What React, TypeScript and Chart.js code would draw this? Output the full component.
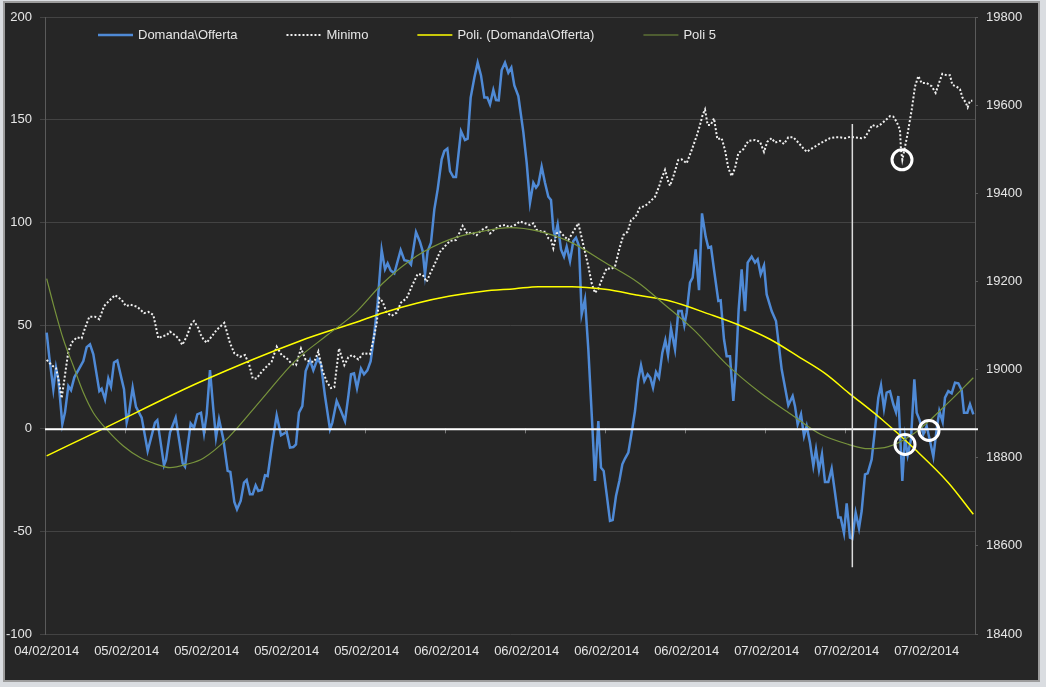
import React, { useEffect, useRef } from "react";
import { Chart, registerables } from "chart.js";

Chart.register(...registerables);

// ---------- data ----------
const xTickLabels = [
  "04/02/2014", "05/02/2014", "05/02/2014", "05/02/2014", "05/02/2014", "06/02/2014",
  "06/02/2014", "06/02/2014", "06/02/2014", "07/02/2014", "07/02/2014", "07/02/2014",
];
const samplesPerLabel = 24;
const sampleCount = 279;

// [sample index, value]
const domanda: [number, number][] = [
  [0, 46.5], [0.8, 34.5], [2.0, 19], [2.8, 29.6], [3.5, 23.8], [4.7, 2], [5.5, 7.8], [6.5, 20.6], [7.3, 18.6], [8.3, 24.8],
  [11.0, 32.7], [12.0, 39.5], [13.0, 40.8], [14.0, 36], [15.8, 18.1], [16.5, 19.3], [17.5, 14.1], [18.5, 24.2], [19.3, 20.3],
  [20.2, 32], [21.2, 33], [22.5, 23.8], [23.2, 19], [24.0, 2.8], [24.7, 7.6], [25.8, 19.8], [26.8, 10.4], [28.5, 5.2],
  [30.3, -11], [32.5, 2.8], [33.2, 4], [35.2, -18], [35.8, -15.4], [37.0, -2.1], [38.7, 5.2], [39.8, -6.2], [40.8, -17],
  [41.5, -18.6], [43.2, 2.4], [44.2, 0.3], [45.2, 6.8], [46.3, 7.6], [47.2, -2.4], [48.0, 6.8], [49.0, 28.3], [50.0, 9.2],
  [50.8, -4.5], [51.7, 4.4], [53.0, -5.3], [54.3, -20.7], [55.1, -21.2], [56.3, -35.8], [57.1, -39.4], [58.2, -35.3],
  [59.2, -26.4], [60.0, -25.1], [61.0, -32.1], [61.8, -32.1], [62.7, -27.7], [63.5, -30.5], [64.5, -30], [65.5, -22.8],
  [66.3, -23.2], [67.7, -7], [69.0, 6.3], [70.3, -3.4], [72.0, -1.8], [73.0, -9.4], [74.0, -9.1], [74.8, -7.8], [75.7, 7.6],
  [76.7, 10.8], [77.7, 27.9], [79.0, 33.2], [80.0, 28.3], [81.3, 33.9], [82.3, 31.1], [83.5, 15.7], [85.0, -0.5], [85.7, 2.8],
  [87.0, 13.3], [88.3, 8.4], [89.5, 3.5], [90.5, 15.7], [91.3, 26.3], [92.2, 26.7], [93.1, 19.5], [94.3, 29], [95.2, 26.3],
  [96.2, 28.2], [97.2, 32.7], [98.2, 44.9], [99.3, 61.1], [100.5, 86.7], [101.5, 77.3], [102.3, 80.2], [103.2, 76.8],
  [104.3, 75.4], [106.2, 86.7], [107.3, 81.8], [108.5, 81.3], [109.3, 79.7], [110.8, 95.4], [112.0, 90.6], [112.8, 86.2],
  [113.5, 74.9], [114.3, 86.2], [115.3, 90.3], [116.3, 106.5], [117.3, 116.2], [118.5, 130.8], [119.3, 134.8], [120.2, 136],
  [121.0, 125.1], [122.0, 122.2], [122.8, 122.2], [124.3, 144.5], [125.5, 140.2], [126.3, 140.8], [127.2, 160.8],
  [128.3, 170.5], [129.3, 177.8], [130.3, 171.6], [131.3, 160.8], [132.2, 160.8], [133.0, 157.5], [134.0, 164.5],
  [134.8, 159.6], [135.6, 159.5], [136.5, 174.2], [137.5, 177.8], [138.5, 172.9], [139.4, 175.4], [140.3, 166.7],
  [141.5, 161.6], [143.0, 144], [144.0, 129.2], [145.0, 109.7], [146.0, 119.4], [146.8, 117], [147.5, 118.6], [148.5, 127.2],
  [149.5, 119.4], [150.5, 112.6], [151.3, 111], [152.0, 96.7], [152.5, 93.5], [153.3, 99.2], [154.3, 87], [155.2, 83.5],
  [156.0, 88.3], [157.0, 81.3], [158.0, 91.1], [158.8, 92.7], [159.7, 88.6], [160.5, 55.4], [161.5, 62.7], [162.5, 38.4],
  [163.7, 1.1], [164.5, -25.6], [165.5, 3.5], [166.3, -19.1], [167.1, -20.7], [168.0, -32.1], [169.0, -45], [169.8, -44.6],
  [170.8, -32.9], [171.8, -25.6], [172.7, -17.5], [173.5, -14.7], [174.5, -11.8], [175.5, -2.1], [176.5, 8.4], [177.5, 23.8],
  [178.3, 30.6], [179.3, 23], [180.3, 26.3], [181.1, 24.6], [181.9, 19.8], [182.8, 27.4], [183.7, 24.6], [184.7, 36.8],
  [185.6, 42.9], [186.4, 35.5], [187.3, 48.5], [188.5, 38.4], [189.5, 57], [190.5, 57], [191.3, 50.1], [192.0, 56.2],
  [193.0, 70.8], [193.8, 73.3], [194.7, 87], [195.7, 67.2], [196.6, 104.5], [197.7, 93.2], [198.5, 87.8], [199.3, 88.3],
  [200.3, 76], [201.5, 61.9], [202.2, 62.2], [203.2, 43.3], [204.0, 35.1], [205.0, 35.1], [206.0, 13.3], [206.8, 30.3],
  [207.6, 57.9], [208.5, 77.3], [209.5, 57], [210.3, 80.6], [211.5, 83.5], [212.5, 80.6], [213.3, 82.2], [214.2, 74.9],
  [215.2, 79.2], [216.0, 65.1], [217.5, 57], [218.8, 52.2], [220.5, 28.7], [222.5, 11.2], [223.8, 15.7], [224.5, 10.8],
  [225.3, 1.9], [226.3, 6.8], [227.2, -3.7], [228.0, 1.1], [229.0, -7], [230.0, -18.3], [230.8, -10.2], [231.7, -20.3],
  [232.6, -12.6], [233.5, -26.1], [234.5, -26.1], [235.5, -19.6], [236.5, -31.3], [237.5, -43.4], [238.2, -43.4],
  [239.2, -51], [240.0, -36.5], [241.0, -53.1], [241.7, -53.6], [242.7, -41], [243.7, -48.6], [244.5, -40.2], [245.5, -22.4],
  [246.3, -21.9], [247.5, -15.1], [248.5, -0.5], [249.5, 14.9], [250.3, 20.9], [251.2, 9.6], [252.0, 17.4], [253.0, 18.1],
  [254.0, 11.7], [254.8, 7.9], [255.5, 15.7], [256.7, -25.6], [257.5, -4.5], [258.3, -13.1], [259.3, -5.3], [260.3, 23.8],
  [261.0, 7.6], [261.8, 4.4], [263.0, -2.9], [264.0, 1.1], [265.0, -6.2], [266.0, -13.8], [267.0, -0.5], [267.8, 8.4],
  [268.8, 3.1], [269.5, 14.9], [270.5, 18.1], [271.5, 17], [272.5, 22.2], [273.5, 21.9], [274.5, 18.6], [275.2, 7.6],
  [276.2, 7.6], [277.0, 11.7], [278.0, 6.8],
];

const minimo: [number, number][] = [
  [0, 19022], [1.5, 19010], [2.8, 19003], [3.5, 18980], [4.5, 18935], [5.5, 18988], [6.5, 19041], [7.5, 19061], [9.0, 19073],
  [10.5, 19071], [11.5, 19094], [12.8, 19120], [14.5, 19120], [15.8, 19114], [17.2, 19144], [19.0, 19158], [20.5, 19169],
  [22.5, 19158], [23.8, 19144], [25.2, 19147], [27.0, 19143], [28.0, 19137], [29.2, 19128], [30.5, 19131], [32.0, 19124],
  [33.5, 19071], [34.8, 19076], [36.0, 19078], [37.0, 19086], [38.5, 19078], [39.5, 19071], [40.7, 19056], [42.0, 19075],
  [43.5, 19105], [44.2, 19110], [45.5, 19094], [46.0, 19082], [47.0, 19069], [48.0, 19061], [49.5, 19075], [51.0, 19090],
  [53.3, 19106], [55.0, 19060], [56.3, 19037], [58.0, 19029], [59.5, 19033], [60.8, 19010], [61.8, 18980], [63.0, 18980],
  [64.5, 18995], [66.0, 19007], [67.5, 19018], [69.0, 19052], [70.5, 19033], [72.0, 19026], [73.5, 19013], [74.8, 19010],
  [76.3, 19048], [77.7, 19022], [79.0, 19018], [80.3, 19018], [81.5, 19041], [82.7, 18999], [84.0, 18973], [85.3, 18958],
  [86.3, 18960], [87.7, 19048], [89.3, 19010], [90.5, 19028], [91.7, 19033], [93.5, 19023], [95.0, 19037], [97.0, 19035],
  [98.0, 19067], [99.0, 19105], [99.8, 19162], [100.8, 19154], [102.0, 19129], [103.5, 19122], [105.0, 19129],
  [106.3, 19152], [108.0, 19162], [109.5, 19188], [111.3, 19217], [112.8, 19215], [114.0, 19199], [115.0, 19217],
  [116.5, 19241], [118.0, 19267], [119.5, 19280], [121.0, 19292], [122.8, 19294], [124.0, 19313], [124.8, 19326],
  [126.2, 19308], [127.5, 19311], [129.0, 19305], [130.5, 19317], [132.0, 19323], [133.0, 19309], [134.2, 19317],
  [136.0, 19326], [137.5, 19328], [139.0, 19323], [140.5, 19328], [142.0, 19336], [143.5, 19332], [145.0, 19328],
  [146.0, 19332], [147.0, 19317], [148.5, 19313], [149.7, 19313], [150.5, 19298], [151.3, 19294], [152.0, 19275],
  [153.0, 19309], [154.0, 19313], [155.3, 19302], [156.5, 19294], [158.0, 19313], [159.5, 19332], [161.0, 19283],
  [162.5, 19234], [163.5, 19196], [164.5, 19174], [165.5, 19184], [166.7, 19207], [168.0, 19230], [169.3, 19228],
  [170.5, 19234], [171.7, 19271], [173.0, 19305], [174.3, 19313], [175.3, 19339], [176.7, 19347], [178.0, 19368],
  [179.5, 19371], [181.0, 19381], [182.5, 19392], [183.7, 19415], [184.5, 19434], [185.5, 19453], [186.5, 19426],
  [187.0, 19417], [188.0, 19438], [189.5, 19476], [190.5, 19477], [192.0, 19468], [193.5, 19498], [195.0, 19530],
  [196.0, 19555], [196.8, 19578], [197.5, 19590], [198.3, 19555], [199.2, 19555], [200.2, 19570], [201.2, 19523],
  [202.5, 19525], [203.5, 19498], [204.5, 19457], [205.5, 19439], [206.5, 19457], [207.5, 19491], [209.0, 19500],
  [210.5, 19519], [212.5, 19521], [214.0, 19517], [215.2, 19494], [216.2, 19517], [217.5, 19525], [218.5, 19515],
  [220.0, 19519], [221.2, 19512], [222.5, 19527], [224.0, 19527], [225.5, 19515], [227.0, 19502], [228.0, 19494],
  [229.2, 19500], [230.5, 19506], [232.0, 19513], [233.5, 19519], [235.0, 19525], [236.5, 19527], [238.0, 19527],
  [239.5, 19525], [241.0, 19528], [242.5, 19527], [244.5, 19525], [245.5, 19527], [246.7, 19542], [247.7, 19555],
  [249.0, 19551], [250.3, 19557], [251.7, 19566], [253.0, 19575], [254.0, 19574], [255.0, 19562], [256.0, 19544],
  [256.3, 19498], [256.7, 19476], [257.3, 19498], [258.3, 19536], [259.5, 19589], [260.5, 19642], [261.5, 19666],
  [262.5, 19650], [264.0, 19650], [265.5, 19643], [266.7, 19628], [267.7, 19650], [268.7, 19671], [270.0, 19668],
  [271.0, 19668], [271.7, 19646], [273.0, 19642], [274.0, 19636], [274.7, 19618], [275.7, 19606], [276.3, 19595],
  [277.0, 19610], [277.7, 19610],
];

const poli: [number, number][] = [
  [0, -13.4], [17.2, 0], [46, 22.5], [76, 42.5], [94, 52.2], [101, 56.2], [111, 60.8], [121, 64.3], [131, 66.7],
  [140.5, 67.9], [147.5, 68.9], [157.5, 68.9], [167.5, 67.6], [177.5, 64.7], [187, 61.9], [199, 55.4], [208, 50],
  [217, 43.3], [226, 34.4], [233.5, 26.7], [240.5, 17.4], [250.5, 4.4], [260.5, -10.2], [270.5, -26.4], [278, -41.8],
];

const poli5: [number, number][] = [
  [0, 72.8], [2, 60.3], [5, 43.3], [8, 30.3], [11, 17.4], [14, 7.6], [18, -0.5], [23, -8.6], [28, -14.2], [33, -17.5],
  [37, -19.1], [42, -17.5], [47, -14.5], [54.5, -4.5], [64.5, 14.1], [74.5, 32.7], [84.5, 45.7], [92.5, 56], [101, 70.8],
  [111, 83.8], [121, 91.9], [131, 95.9], [139, 97.6], [147.5, 95.9], [157.5, 90.3], [167.5, 80.6], [177.5, 70.8],
  [185.5, 60], [194, 48.1], [204, 31.1], [214, 17.4], [224, 6], [232, -2.8], [240.5, -7.8], [246.5, -9.9], [252.5, -8.9],
  [260.5, -2.1], [270.5, 12.5], [278, 24.6],
];

// annotation shapes, in data units
const markerLine = { t: 241.7, from: 148, to: -67.5 };
const circleMarks: { t: number; v: number; axis: "y" | "y2" }[] = [
  { t: 256.6, v: 19476, axis: "y2" },
  { t: 257.5, v: -7.8, axis: "y" },
  { t: 264.7, v: -1, axis: "y" },
];

const FONT = '"Liberation Sans", Arial, sans-serif';
const TEXT = "#e6e6e6";
const GRID = "#434343";
const AXIS = "#5a5a5a";

const toPts = (arr: [number, number][]) => arr.map(([x, y]) => ({ x, y }));

const backgroundPlugin = {
  id: "bgPanel",
  beforeDraw(chart: any) {
    const { ctx, width, height } = chart;
    ctx.save();
    ctx.fillStyle = "#dadde1";
    ctx.fillRect(0, 0, width, height);
    ctx.fillStyle = "#9c9c9c";
    ctx.fillRect(3, 1, 1037, 681);
    ctx.fillStyle = "#262626";
    ctx.fillRect(5, 3, 1033, 677);
    ctx.restore();
  },
};

const annotationPlugin = {
  id: "annots",
  afterDatasetsDraw(chart: any) {
    const { ctx, chartArea: ca } = chart;
    const xs = chart.scales.x;
    const ys = chart.scales.y;
    const y0 = ys.getPixelForValue(0);
    ctx.save();
    // category tick marks on the zero axis
    ctx.strokeStyle = "#7a7a7a";
    ctx.lineWidth = 1;
    for (let k = 1; k < xTickLabels.length; k++) {
      const px = Math.round(xs.getPixelForValue(k * samplesPerLabel - 0.5)) + 0.5;
      ctx.beginPath();
      ctx.moveTo(px, y0);
      ctx.lineTo(px, y0 + 5);
      ctx.stroke();
    }
    // zero line
    ctx.strokeStyle = "#ffffff";
    ctx.lineWidth = 2;
    ctx.beginPath();
    ctx.moveTo(ca.left, y0 + 1);
    ctx.lineTo(ca.right + 3, y0 + 1);
    ctx.stroke();
    // vertical marker
    const mx = xs.getPixelForValue(markerLine.t);
    ctx.strokeStyle = "#dcdcdc";
    ctx.lineWidth = 1.5;
    ctx.beginPath();
    ctx.moveTo(mx, ys.getPixelForValue(markerLine.from));
    ctx.lineTo(mx, ys.getPixelForValue(markerLine.to));
    ctx.stroke();
    // circles
    ctx.strokeStyle = "#ffffff";
    ctx.lineWidth = 3;
    for (const c of circleMarks) {
      const cx = xs.getPixelForValue(c.t);
      const cy = chart.scales[c.axis].getPixelForValue(c.v);
      ctx.beginPath();
      ctx.arc(cx, cy, 10, 0, Math.PI * 2);
      ctx.stroke();
    }
    ctx.restore();
  },
};

const legendPlugin = {
  id: "overlayLegend",
  afterDraw(chart: any) {
    const { ctx, chartArea: ca } = chart;
    ctx.save();
    ctx.font = `13px ${FONT}`;
    ctx.textBaseline = "middle";
    let x = ca.left + 53;
    const y = ca.top + 18;
    chart.data.datasets.forEach((ds: any) => {
      ctx.strokeStyle = ds.borderColor;
      ctx.lineWidth = ds.borderWidth;
      ctx.setLineDash(ds.borderDash || []);
      ctx.beginPath();
      ctx.moveTo(x, y);
      ctx.lineTo(x + 35, y);
      ctx.stroke();
      ctx.setLineDash([]);
      ctx.fillStyle = TEXT;
      ctx.fillText(ds.label, x + 40, y);
      x += 40 + ctx.measureText(ds.label).width + 49;
    });
    ctx.restore();
  },
};

export default function App() {
  const ref = useRef<HTMLCanvasElement>(null);

  useEffect(() => {
    const canvas = ref.current;
    if (!canvas) return;
    const tickFont = { family: FONT, size: 13 };
    const chart = new Chart(canvas, {
      type: "line",
      data: {
        datasets: [
          {
            label: "Domanda\\Offerta",
            data: toPts(domanda),
            borderColor: "#4f8ad6",
            borderWidth: 2.5,
            yAxisID: "y",
            order: 3,
          },
          {
            label: "Minimo",
            data: toPts(minimo),
            borderColor: "#f0f0f0",
            borderWidth: 2,
            borderDash: [2, 2],
            yAxisID: "y2",
            order: 2,
          },
          {
            label: "Poli. (Domanda\\Offerta)",
            data: toPts(poli),
            borderColor: "#ffff00",
            borderWidth: 1.5,
            cubicInterpolationMode: "monotone",
            yAxisID: "y",
            order: 1,
          },
          {
            label: "Poli 5",
            data: toPts(poli5),
            borderColor: "#77933c",
            borderWidth: 1.2,
            cubicInterpolationMode: "monotone",
            yAxisID: "y",
            order: 0,
          },
        ],
      } as any,
      options: {
        responsive: false,
        animation: false,
        events: [],
        elements: {
          point: { radius: 0, hoverRadius: 0 },
          line: { tension: 0, fill: false },
        },
        layout: { padding: { left: 5, right: 21, top: 17, bottom: 23 } },
        plugins: { legend: { display: false }, tooltip: { enabled: false } },
        scales: {
          x: {
            type: "linear",
            min: -0.5,
            max: sampleCount - 0.5,
            afterBuildTicks: (s: any) => {
              s.ticks = xTickLabels.map((_, i) => ({ value: i * samplesPerLabel }));
            },
            afterFit: (s: any) => {
              s.height = 30;
            },
            grid: { display: false, drawTicks: false },
            border: { display: false },
            ticks: {
              callback: (v: any) => xTickLabels[Math.round(Number(v) / samplesPerLabel)] ?? "",
              color: TEXT,
              font: tickFont,
              padding: 10,
              maxRotation: 0,
              autoSkip: false,
            },
          },
          y: {
            position: "left",
            min: -100,
            max: 200,
            afterFit: (s: any) => {
              s.width = 40;
            },
            ticks: { stepSize: 50, color: TEXT, font: tickFont, padding: 8, callback: (v: any) => String(v) },
            grid: { color: GRID, tickLength: 5, lineWidth: 1 },
            border: { color: AXIS },
          },
          y2: {
            position: "right",
            min: 18400,
            max: 19800,
            afterFit: (s: any) => {
              s.width = 50;
            },
            ticks: { stepSize: 200, color: TEXT, font: tickFont, padding: 8, callback: (v: any) => String(v) },
            grid: { drawOnChartArea: false, tickLength: 3, color: AXIS },
            border: { color: AXIS },
          },
        },
      } as any,
      plugins: [backgroundPlugin, annotationPlugin, legendPlugin],
    });
    return () => chart.destroy();
  }, []);

  return (
    <div style={{ position: "absolute", left: 0, top: 0, width: 1046, height: 687 }}>
      <canvas ref={ref} width={1046} height={687} style={{ display: "block" }} />
    </div>
  );
}
